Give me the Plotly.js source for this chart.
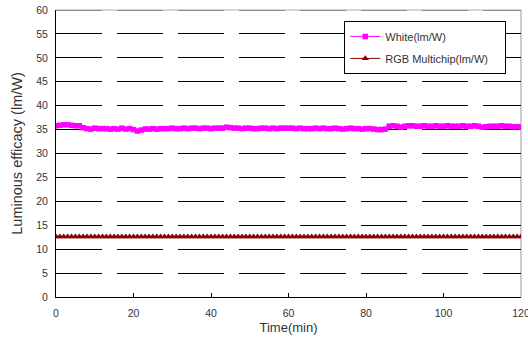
<!DOCTYPE html>
<html>
<head>
<meta charset="utf-8">
<script src="https://cdn.plot.ly/plotly-3.0.1.min.js"></script>
<style>html,body{margin:0;padding:0;background:#fff;}#chart{width:528px;height:339px;}</style>
</head>
<body>
<div id="chart"></div>
<script>
// Time in minutes
var timeMin = [0,1,2,3,4,5,6,7,8,9,10,11,12,13,14,15,16,17,18,19,20,21,22,23,24,25,26,27,28,29,30,31,32,33,34,35,36,37,38,39,40,41,42,43,44,45,46,47,48,49,50,51,52,53,54,55,56,57,58,59,60,61,62,63,64,65,66,67,68,69,70,71,72,73,74,75,76,77,78,79,80,81,82,83,84,85,86,87,88,89,90,91,92,93,94,95,96,97,98,99,100,101,102,103,104,105,106,107,108,109,110,111,112,113,114,115,116,117,118,119,120];
var whiteLmW = [35.8,35.9,36.0,36.0,35.9,35.8,35.8,35.4,35.2,35.1,35.3,35.2,35.2,35.2,35.1,35.2,35.1,35.3,35.1,35.2,35.0,34.7,34.9,35.1,35.1,35.2,35.1,35.2,35.2,35.2,35.3,35.2,35.2,35.3,35.2,35.3,35.3,35.2,35.3,35.3,35.2,35.3,35.3,35.3,35.5,35.4,35.3,35.3,35.2,35.3,35.3,35.2,35.2,35.3,35.3,35.2,35.3,35.2,35.3,35.3,35.3,35.3,35.2,35.3,35.2,35.2,35.2,35.3,35.2,35.3,35.2,35.2,35.3,35.2,35.1,35.2,35.3,35.2,35.2,35.1,35.2,35.2,35.1,35.0,35.0,35.1,35.7,35.8,35.7,35.5,35.7,35.8,35.8,35.7,35.7,35.8,35.7,35.7,35.8,35.7,35.7,35.8,35.7,35.7,35.7,35.8,35.7,35.7,35.8,35.7,35.5,35.6,35.7,35.7,35.7,35.8,35.7,35.7,35.6,35.6,35.5];
var rgbLmW = [12.6,12.6,12.6,12.6,12.6,12.6,12.6,12.6,12.6,12.6,12.6,12.6,12.6,12.6,12.6,12.6,12.6,12.6,12.6,12.6,12.6,12.6,12.6,12.6,12.6,12.6,12.6,12.6,12.6,12.6,12.6,12.6,12.6,12.6,12.6,12.6,12.6,12.6,12.6,12.6,12.6,12.6,12.6,12.6,12.6,12.6,12.6,12.6,12.6,12.6,12.6,12.6,12.6,12.6,12.6,12.6,12.6,12.6,12.6,12.6,12.6,12.6,12.6,12.6,12.6,12.6,12.6,12.6,12.6,12.6,12.6,12.6,12.6,12.6,12.6,12.6,12.6,12.6,12.6,12.6,12.6,12.6,12.6,12.6,12.6,12.6,12.6,12.6,12.6,12.6,12.6,12.6,12.6,12.6,12.6,12.6,12.6,12.6,12.6,12.6,12.6,12.6,12.6,12.6,12.6,12.6,12.6,12.6,12.6,12.6,12.6,12.6,12.6,12.6,12.6,12.6,12.6,12.6,12.6,12.6,12.6];
var seriesNames = ["White(lm/W)", "RGB Multichip(lm/W)"];
var xTicks = [0,20,40,60,80,100,120];
var yTicks = [0,5,10,15,20,25,30,35,40,45,50,55,60];
var yMax = 60;

var font = "Liberation Sans, Arial, sans-serif";
var pad = "\u00a0\u00a0\u00a0\u00a0";
var traces = [
  {x: timeMin, y: whiteLmW, name: seriesNames[0] + pad, type: "scatter", mode: "lines+markers",
   legendgroup: "a",
   line: {color: "#ff00ff", width: 1}, marker: {symbol: "square", size: 5.5, color: "#ff00ff"}},
  {x: timeMin, y: rgbLmW, name: seriesNames[1] + pad, type: "scatter", mode: "lines+markers",
   legendgroup: "b",
   line: {color: "#8b0000", width: 1}, marker: {symbol: "triangle-up", size: 6.5, color: "#8b0000"}}
];
var layout = {
  width: 528, height: 339,
  margin: {l: 56, r: 7, t: 10, b: 42},
  paper_bgcolor: "#fff", plot_bgcolor: "#fff",
  font: {family: font, size: 10.5, color: "#333"},
  showlegend: true,
  legend: {x: 0.62, y: 0.962, xanchor: "left", yanchor: "top", bgcolor: "#fff",
           bordercolor: "#000", borderwidth: 1, font: {family: font, size: 11, color: "#333"},
           tracegroupgap: 3},
  xaxis: {range: [0, 120], tickvals: xTicks, ticks: "inside", ticklen: 4, tickcolor: "#000",
          showline: true, linecolor: "#000", linewidth: 1, showgrid: false, zeroline: false,
          ticklabeloverflow: "allow", ticklabelstandoff: 6,
          tickfont: {size: 10.5, color: "#333"},
          title: {text: "Time(min)", font: {size: 13, color: "#333"}, standoff: 5}},
  yaxis: {range: [0, yMax], tickvals: yTicks, ticks: "", showline: true, linecolor: "#000", linewidth: 1,
          showgrid: true, gridcolor: "#000", gridwidth: 1, griddash: "46px,15px", zeroline: false,
          ticklabelstandoff: 5,
          tickfont: {size: 10.5, color: "#333"},
          title: {text: "Luminous efficacy (lm/W)", font: {size: 14.5, color: "#333"}, standoff: 10}},
  shapes: [
    {type: "line", xref: "paper", yref: "paper", x0: 0, x1: 1, y0: 1, y1: 1, line: {color: "#aaa", width: 1}, layer: "below"},
    {type: "line", xref: "paper", yref: "y", x0: 0, x1: 1, y0: yMax, y1: yMax, line: {color: "#444", width: 1, dash: "46px,15px"}, layer: "below"},
    {type: "line", xref: "paper", yref: "paper", x0: 1, x1: 1, y0: 0, y1: 1, line: {color: "#999", width: 1}, layer: "below"}
  ]
};
Plotly.newPlot("chart", traces, layout, {staticPlot: true, displayModeBar: false});
</script>
</body>
</html>
